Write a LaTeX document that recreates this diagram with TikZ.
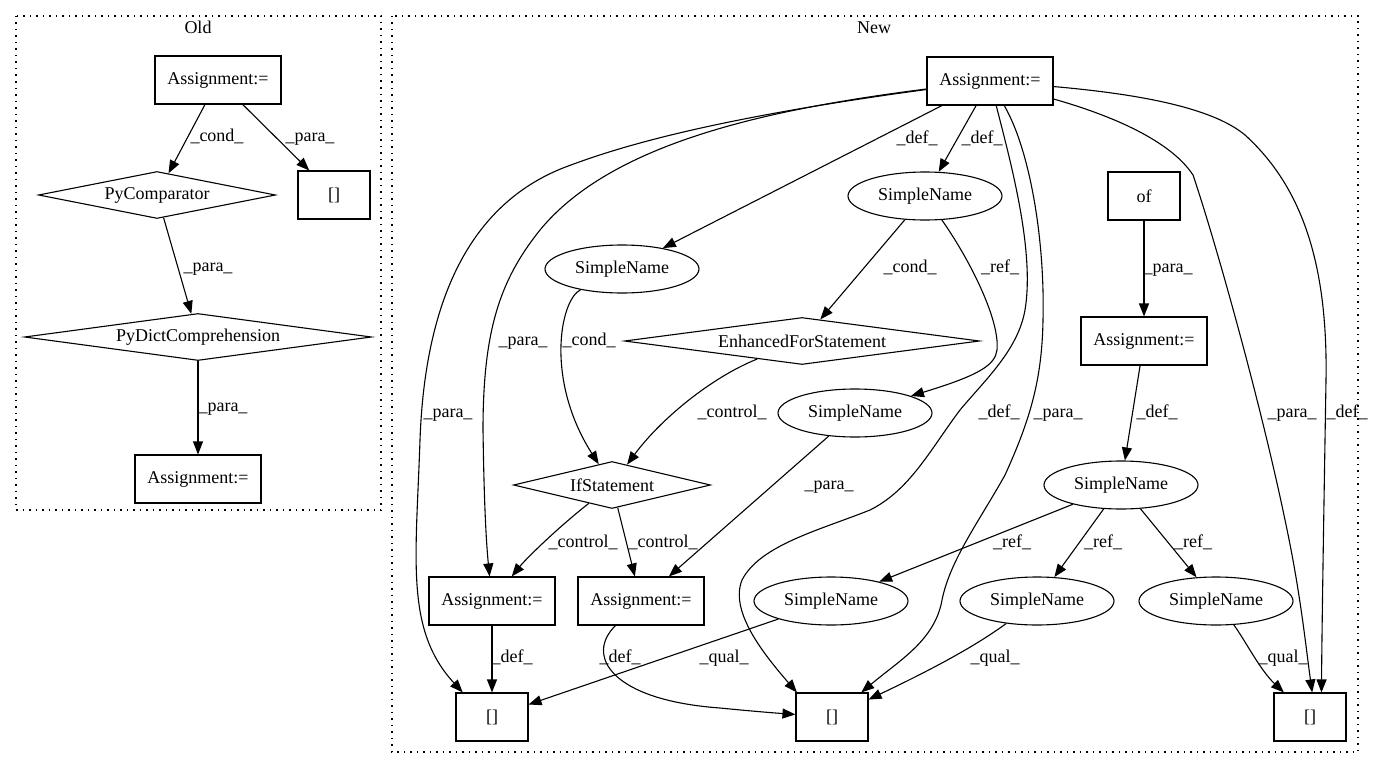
\documentclass[tikz,border=0pt]{standalone}
\usepackage{fontspec}
\setmainfont{Liberation Serif}
\usetikzlibrary{shapes.geometric}
\usetikzlibrary{arrows.meta}
\tikzstyle{stmt}=[draw,rectangle,line width=1.1pt,minimum width=126pt,minimum height=48pt,inner sep=0pt,font=\fontsize{18}{22}\selectfont]
\tikzstyle{sqb}=[stmt,minimum width=72pt]
\tikzstyle{var}=[draw,ellipse,line width=1.1pt,minimum width=154pt,minimum height=48pt,inner sep=0pt,font=\fontsize{18}{22}\selectfont]
\tikzstyle{branch}=[draw,diamond,aspect=7,line width=1.1pt,minimum height=47pt,inner sep=1pt,font=\fontsize{18}{22}\selectfont]
\tikzstyle{elab}=[inner sep=0pt,text height=12pt,text depth=4pt,font=\fontsize{18}{22}\selectfont]
\tikzstyle{dep}=[line width=1.1pt,-{Triangle[length=13pt,width=10pt]}]
\tikzstyle{cluster}=[line width=1.2pt,dash pattern=on 1.5pt off 5pt]
\begin{document}
\begin{tikzpicture}[x=1pt,y=-1pt]
\useasboundingbox (0,0) rectangle (1373,768);
% old version
\draw[cluster] (16,16) rectangle (381,510);
\node[elab] (oldtitle) at (198,30) {Old};
\node[stmt] (oA) at (218,80) {Assignment:=};
\node[sqb] (oB) at (334,195) {[]};
\node[branch,minimum width=237pt] (oPC) at (157,195) {PyComparator};
\node[branch,minimum width=347pt] (oPD) at (198,337) {PyDictComprehension};
\node[stmt] (oA2) at (198,479) {Assignment:=};
\draw[dep] (oA) -- (oPC);
\draw[dep] (oA) -- (oB);
\draw[dep] (oPC) -- (oPD);
\draw[dep] (oPD) -- (oA2);
\node[elab] (ol1) at (217,137) {\_cond\_};
\node[elab] (ol2) at (310,137) {\_para\_};
\node[elab] (ol3) at (208,267) {\_para\_};
\node[elab] (ol4) at (223,407) {\_para\_};
% new version
\draw[cluster] (392,16) rectangle (1358,752);
\node[elab] (newtitle) at (874,30) {New};
\node[stmt] (nA) at (990,81) {Assignment:=};
\node[var] (snA) at (925,196) {SimpleName};
\node[sqb] (of) at (1144,196) {of};
\node[var] (snB) at (622,269) {SimpleName};
\node[branch,minimum width=355pt] (efs) at (802,341) {EnhancedForStatement};
\node[stmt] (aOf) at (1144,341) {Assignment:=};
\node[var] (snC) at (855,413) {SimpleName};
\node[branch,minimum width=197pt] (ifs) at (612,485) {IfStatement};
\node[var] (snD) at (1121,485) {SimpleName};
\node[stmt] (aL) at (492,601) {Assignment:=};
\node[stmt] (aM) at (641,601) {Assignment:=};
\node[var] (snE) at (831,601) {SimpleName};
\node[var] (snF) at (1037,601) {SimpleName};
\node[var] (snG) at (1216,601) {SimpleName};
\node[sqb] (bL) at (492,717) {[]};
\node[sqb] (bM) at (832,717) {[]};
\node[sqb] (bR) at (1310,717) {[]};
% edges out of the top assignment
\draw[dep] (nA) .. controls (700,120) and (610,150) .. (563,168) .. controls (470,205) and (425,300) .. (420,440) .. controls (416,560) and (405,630) .. (bL.140);
\draw[dep] (nA) .. controls (760,110) and (610,145) .. (540,230) .. controls (500,280) and (483,330) .. (483,430) .. controls (484,500) and (486,540) .. (aL);
\draw[dep] (nA) -- (snB);
\draw[dep] (nA) -- (snA);
\draw[dep] (nA) .. controls (1010,160) and (1035,250) .. (1025,310) .. controls (1018,350) and (985,380) .. (960,410) .. controls (930,450) and (910,490) .. (870,510) .. controls (820,530) and (760,545) .. (742,580) .. controls (730,610) and (760,650) .. (bM.145);
\draw[dep] (nA) .. controls (1030,150) and (1045,240) .. (1043,320) .. controls (1042,380) and (1030,420) .. (1005,475) .. controls (980,520) and (950,560) .. (942,600) .. controls (935,640) and (900,660) .. (bM.40);
\draw[dep] (nA) .. controls (1110,115) and (1170,140) .. (1193,175) .. controls (1215,240) and (1260,400) .. (1285,520) .. controls (1300,590) and (1305,640) .. (bR.85);
\draw[dep] (nA) .. controls (1150,95) and (1215,110) .. (1245,135) .. controls (1300,185) and (1328,260) .. (1326,380) .. controls (1324,500) and (1322,620) .. (bR.65);
% the rest
\draw[dep] (snA) -- (efs);
\draw[dep] (snA) .. controls (970,260) and (1000,320) .. (997,350) .. controls (995,365) and (980,375) .. (snC);
\draw[dep] (of) -- (aOf);
\draw[dep] (snB) .. controls (560,300) and (545,380) .. (ifs);
\draw[dep] (efs) .. controls (710,378) and (660,420) .. (ifs);
\draw[dep] (aOf) -- (snD);
\draw[dep] (snC) -- (aM);
\draw[dep] (ifs) .. controls (555,530) and (525,560) .. (aL);
\draw[dep] (ifs) -- (aM);
\draw[dep] (snD) -- (snE);
\draw[dep] (snD) -- (snF);
\draw[dep] (snD) -- (snG);
\draw[dep] (aL) -- (bL);
\draw[dep] (aM) .. controls (585,655) and (610,700) .. (720,708) .. controls (750,711) and (775,713) .. (bM);
\draw[dep] (snE) -- (bL);
\draw[dep] (snF) .. controls (970,650) and (920,675) .. (bM);
\draw[dep] (snG) .. controls (1245,640) and (1260,670) .. (bR);
% edge labels
\node[elab] (nl1) at (917,139) {\_def\_};
\node[elab] (nl2) at (982,139) {\_def\_};
\node[elab] (nl3) at (448,413) {\_para\_};
\node[elab] (nl4) at (523,341) {\_para\_};
\node[elab] (nl5) at (589,341) {\_cond\_};
\node[elab] (nl6) at (910,268) {\_cond\_};
\node[elab] (nl7) at (1000,268) {\_ref\_};
\node[elab] (nl8) at (1168,268) {\_para\_};
\node[elab] (nl9) at (732,413) {\_control\_};
\node[elab] (nl10) at (999,413) {\_def\_};
\node[elab] (nl11) at (1058,413) {\_para\_};
\node[elab] (nl12) at (1157,413) {\_def\_};
\node[elab] (nl13) at (1292,413) {\_para\_};
\node[elab] (nl14) at (1347,413) {\_def\_};
\node[elab] (nl15) at (829,485) {\_para\_};
\node[elab] (nl16) at (583,543) {\_control\_};
\node[elab] (nl17) at (663,543) {\_control\_};
\node[elab] (nl18) at (1012,543) {\_ref\_};
\node[elab] (nl19) at (1103,543) {\_ref\_};
\node[elab] (nl20) at (1193,543) {\_ref\_};
\node[elab] (nl21) at (512,658) {\_def\_};
\node[elab] (nl22) at (620,658) {\_def\_};
\node[elab] (nl23) at (724,658) {\_qual\_};
\node[elab] (nl24) at (995,658) {\_qual\_};
\node[elab] (nl25) at (1283,658) {\_qual\_};
\end{tikzpicture}
\end{document}
